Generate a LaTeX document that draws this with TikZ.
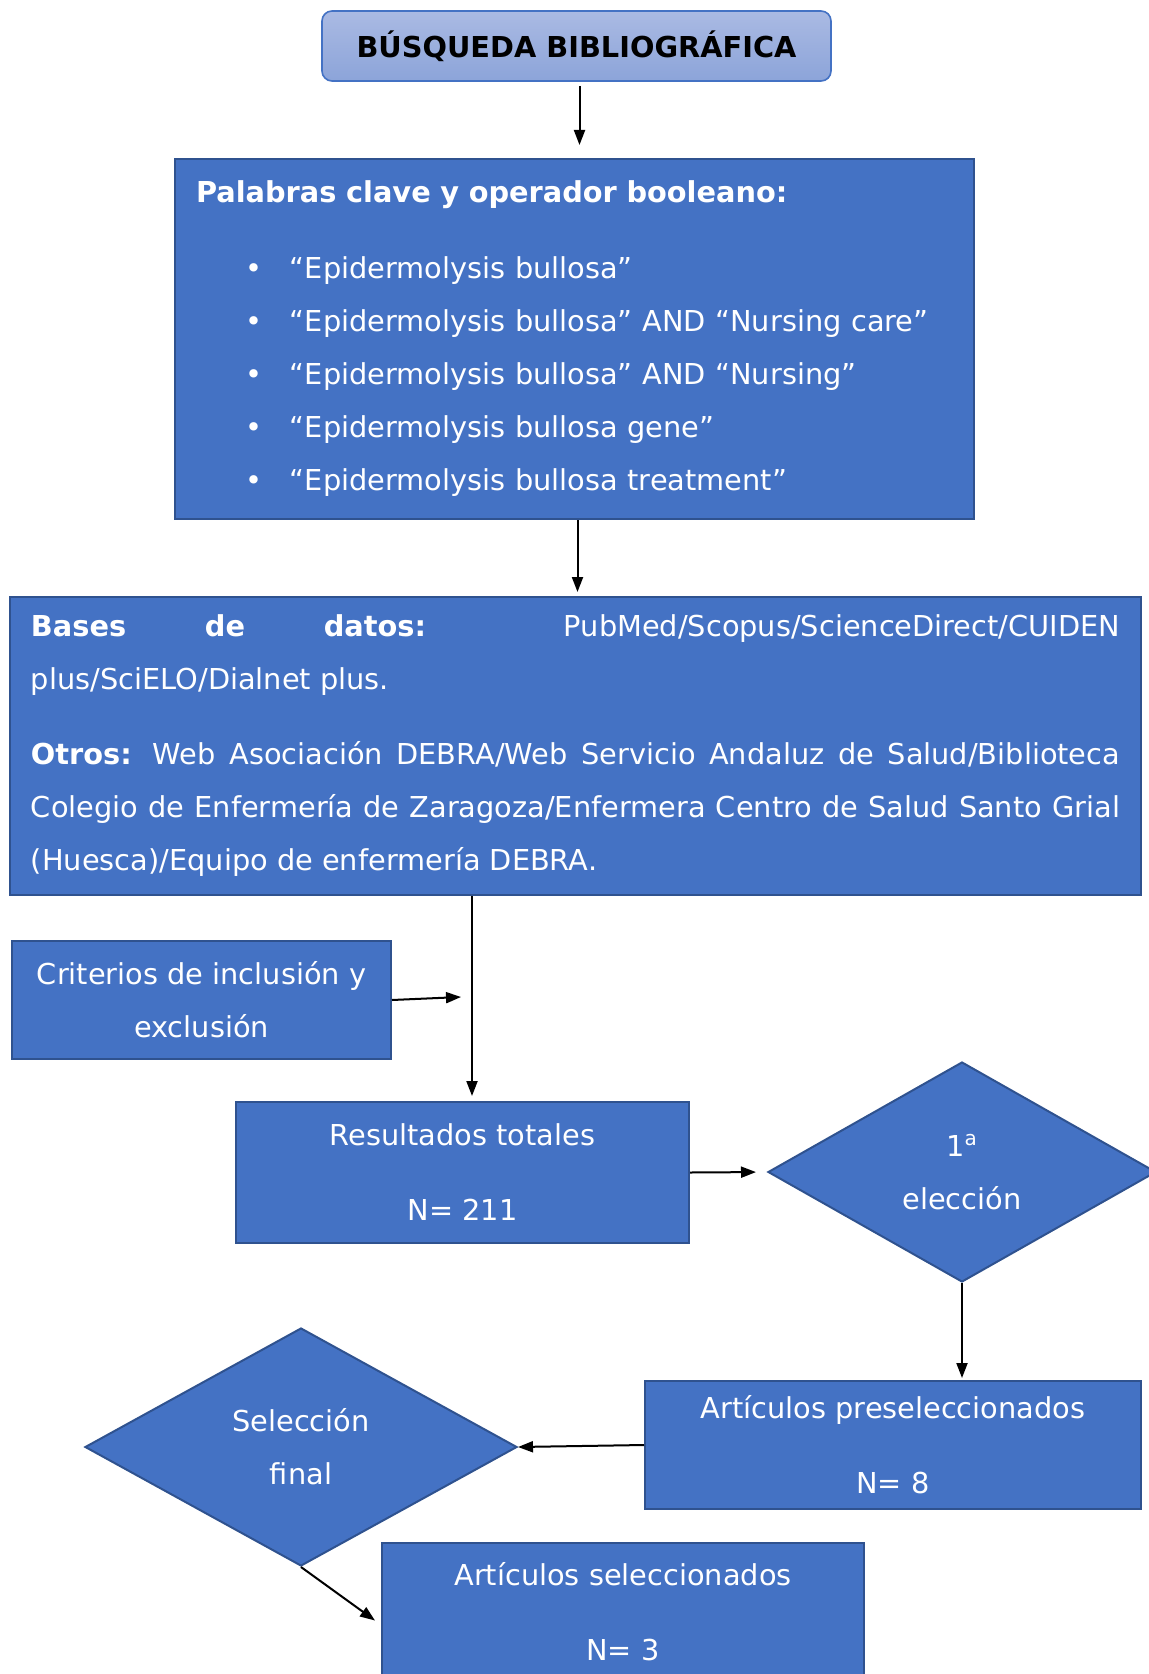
\documentclass[tikz,border=0pt]{standalone}
\usepackage{fontspec}
\setmainfont{DejaVu Sans}
\usetikzlibrary{arrows,arrows.meta,calc,positioning,shapes.geometric}
\definecolor{azul}{HTML}{4472C4}
\definecolor{borde}{HTML}{2F528F}
\definecolor{claro1}{HTML}{AABAE3}
\definecolor{claro2}{HTML}{8CA4D9}
\newcommand{\bul}{\makebox[47pt][l]{\hspace{24.5pt}\textbullet}}
\tikzset{
  caja/.style={draw=borde, fill=azul, line width=1pt, text=white, align=center,
    inner sep=0pt, font=\fontsize{14.4}{26.5}\selectfont},
  rombo/.style={caja, shape=diamond, aspect=1.76},
  flecha/.style={-{Triangle[length=7.5pt,width=5.5pt]}, line width=1pt, black}
}

\begin{document}
\begin{tikzpicture}[x=0.5pt,y=-0.5pt]
\clip (0,0) rectangle (1149,1674);
\fill[white] (0,0) rectangle (1149,1674);
% cabecera
\node[draw=azul, line width=0.8pt, rounded corners=5pt, top color=claro1, bottom color=claro2,
  minimum width=254.5pt, minimum height=35pt, font=\fontsize{14.4}{17}\selectfont\bfseries] (busq) at (576.5,46) {BÚSQUEDA BIBLIOGRÁFICA};
\node[caja, minimum width=399.5pt, minimum height=180pt, text width=378.5pt, align=left, inner xsep=10.5pt] (claves) at (574.5,339) {\textbf{Palabras clave y operador booleano:}\\[11.5pt]
\bul “Epidermolysis bullosa”\\
\bul “Epidermolysis bullosa” AND “Nursing care”\\
\bul “Epidermolysis bullosa” AND “Nursing”\\
\bul “Epidermolysis bullosa gene”\\
\bul “Epidermolysis bullosa treatment”};
\node[caja, minimum width=565.5pt, minimum height=149pt, text width=544.5pt, align=justify, inner xsep=10.5pt] (bases) at (575.5,746) {\noindent\hyphenpenalty=10000
\textbf{Bases de datos:} PubMed/Scopus/ScienceDirect/CUIDEN\linebreak plus/SciELO/Dialnet plus.\par\vspace{11pt}
\noindent\textbf{Otros:} Web Asociación DEBRA/Web Servicio Andaluz de Salud/Biblioteca\linebreak Colegio de Enfermería de Zaragoza/Enfermera Centro de Salud Santo Grial\linebreak (Huesca)/Equipo de enfermería DEBRA.};
% criterios y resultados
\node[caja, minimum width=189.5pt, minimum height=59pt] (criterios) at (201.5,1000) {Criterios de inclusión y\\exclusión};
\node[caja, minimum width=226.5pt, minimum height=70.5pt] (resultados) at (462.5,1172.5) {Resultados totales\\[11pt]N= 211};
\node[rombo, minimum width=194pt, minimum height=110pt] (eleccion) at (962,1172) {1\textsuperscript{a}\\elección};
\node[caja, minimum width=248pt, minimum height=64pt] (pre) at (893,1445) {Artículos preseleccionados\\[11pt]N= 8};
\node[rombo, minimum width=216pt, minimum height=119pt] (final) at (301,1447) {Selección\\final};
\node[caja, minimum width=241pt, minimum height=68.5pt] (sel) at (623,1611.5) {Artículos seleccionados\\[11pt]N= 3};
% flechas
\coordinate (cruce) at (472,997);
\draw[flecha, shorten <=2pt, shorten >=6.5pt] ([xshift=1.5pt]busq.south) -- ([xshift=1.5pt]busq.south |- claves.north);
\draw[flecha, shorten >=2pt] ([xshift=1.5pt]claves.south) -- ([xshift=1.5pt]claves.south |- bases.north);
\draw[flecha, shorten >=2.5pt] (bases.south -| cruce) -- (resultados.north -| cruce);
\draw[flecha] (criterios.east) -- ($(cruce)+(-11,0)$);
\draw[flecha, shorten >=5.5pt] (resultados.east) -- (eleccion.west);
\draw[flecha, shorten >=1pt] (eleccion.south) -- (pre.north -| eleccion.south);
\draw[flecha] (pre.west) -- (final.east);
\draw[flecha] (final.south) -- ($(sel.west)+(-6,9)$);
\end{tikzpicture}
\end{document}
